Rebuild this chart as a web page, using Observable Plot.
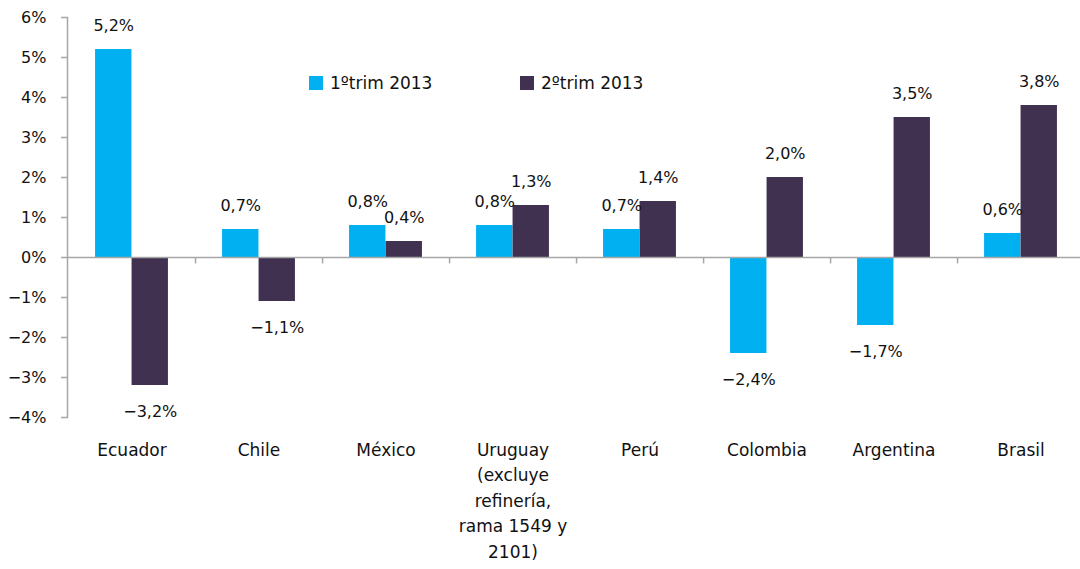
<!DOCTYPE html>
<html><head><meta charset="utf-8">
<script src="https://cdn.jsdelivr.net/npm/d3@7"></script>
<script src="https://cdn.jsdelivr.net/npm/@observablehq/plot@0.6"></script>
<style>
body{margin:0;background:#fff;font-family:"DejaVu Sans",sans-serif;}
#wrap{position:relative;width:1080px;height:569px;overflow:hidden;}
.lg{position:absolute;display:flex;align-items:center;font-size:17px;color:#111;white-space:nowrap;}
.sw{width:14px;height:14px;margin-right:7px;}
</style></head><body><div id="wrap"></div>
<script>
const categories = ["Ecuador","Chile","México","Uruguay\n(excluye\nrefinería,\nrama 1549 y\n2101)","Perú","Colombia","Argentina","Brasil"];
const trim1 = [5.2, 0.7, 0.8, 0.8, 0.7, -2.4, -1.7, 0.6];
const trim2 = [-3.2, -1.1, 0.4, 1.3, 1.4, 2.0, 3.5, 3.8];
const seriesNames = ["1ºtrim 2013", "2ºtrim 2013"];
const colors = ["#00B0F0", "#403151"];
const yTicks = [-4,-3,-2,-1,0,1,2,3,4,5,6];

const d1 = categories.map((c,i)=>({cat:c, serie:seriesNames[0], value:trim1[i]}));
const d2 = categories.map((c,i)=>({cat:c, serie:seriesNames[1], value:trim2[i]}));

const W=1080, H=569, mL=67, mR=-4, mT=17, mB=152;
const step=(W-mL-mR)/categories.length;
const barW=36.5;
const gray="#a6a6a6";
const fmt = v => (v<0?"\u2212":"") + Math.abs(v).toFixed(1).replace(".", ",") + "%";

function labels(d, dx){
  return [
    Plot.text(d.filter(e=>e.value>=0), {x:"cat", y:"value", text:e=>fmt(e.value), dx, dy:-24, fontSize:16, fill:"#111"}),
    Plot.text(d.filter(e=>e.value<0), {x:"cat", y:"value", text:e=>fmt(e.value), dx, dy:26, fontSize:16, fill:"#111"})
  ];
}

const chart = Plot.plot({
  width:W, height:H, marginLeft:mL, marginRight:mR, marginTop:mT, marginBottom:mB,
  style:{fontFamily:"DejaVu Sans", fontSize:"16px", color:"#111", background:"#fff", overflow:"hidden"},
  x:{domain:categories, padding:0, axis:null},
  y:{domain:[-4,6], axis:null},
  marks:[
    Plot.barY(d1, {x:"cat", y:"value", fill:colors[0], insetLeft:step/2-barW, insetRight:step/2}),
    Plot.barY(d2, {x:"cat", y:"value", fill:colors[1], insetLeft:step/2, insetRight:step/2-barW}),
    Plot.ruleY([0], {stroke:gray, strokeWidth:1.5}),
    Plot.ruleX(categories, {x:d=>d, y1:0, y2:-0.16, dx:step/2, stroke:gray, strokeWidth:1.5}),
    Plot.frame({anchor:"left", stroke:gray, strokeWidth:1.5}),
    Plot.axisY({ticks:yTicks, tickSize:6, tickPadding:15, stroke:gray, strokeWidth:1.5, fontSize:16,
      tickFormat:v=>(v<0?"\u2212":"")+Math.abs(v)+"%", label:null}),
    Plot.axisX({tickSize:0, tickPadding:20, fontSize:17, lineHeight:25.5/17, lineAnchor:"top", label:null}),
    ...labels(d1, -barW/2),
    ...labels(d2, barW/2)
  ]
});
const wrap=document.getElementById("wrap");
wrap.appendChild(chart);
const legendPos=[{left:309, top:73},{left:520, top:73}];
seriesNames.forEach((s,i)=>{
  const div=document.createElement("div");
  div.className="lg";
  div.style.left=legendPos[i].left+"px";
  div.style.top=legendPos[i].top+"px";
  div.innerHTML=`<span class="sw" style="background:${colors[i]}"></span><span>${s}</span>`;
  wrap.appendChild(div);
});
</script></body></html>
